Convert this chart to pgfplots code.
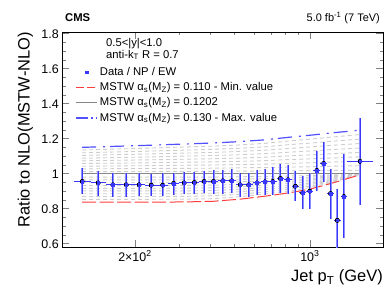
\documentclass[border=0pt]{standalone}
\usepackage{pgfplots}
\usepackage{pgfplotstable}
\pgfplotsset{compat=1.18}
\usepackage{fontspec}
\setmainfont{Liberation Sans}
\definecolor{rootred}{RGB}{255,60,60}
\definecolor{rootblue}{RGB}{80,80,255}
\definecolor{lightgr}{RGB}{205,205,205}
\definecolor{midgr}{RGB}{135,135,135}
\definecolor{bandblue}{RGB}{140,140,255}
\definecolor{datablue}{RGB}{55,55,255}

\pgfplotstableread{
x      r110  r111  r112  r113  r114  r115  r116  r117  r118  r119  r121  r122  r123  r124  r125  r126  r127  r128  r129  r130
123.1  0.838 0.854 0.870 0.886 0.902 0.917 0.933 0.949 0.965 0.981 1.012 1.028 1.043 1.059 1.074 1.089 1.105 1.120 1.136 1.151
207.7  0.838 0.854 0.870 0.886 0.902 0.917 0.933 0.949 0.965 0.981 1.013 1.030 1.046 1.062 1.079 1.095 1.112 1.128 1.145 1.161
314.6  0.839 0.855 0.871 0.886 0.902 0.918 0.934 0.949 0.965 0.981 1.014 1.031 1.049 1.066 1.083 1.101 1.118 1.135 1.153 1.170
412.1  0.843 0.858 0.874 0.889 0.905 0.920 0.935 0.951 0.966 0.981 1.014 1.032 1.050 1.068 1.086 1.104 1.122 1.140 1.158 1.176
527.1  0.855 0.869 0.883 0.898 0.912 0.926 0.940 0.954 0.969 0.983 1.015 1.034 1.053 1.071 1.090 1.109 1.128 1.146 1.165 1.184
661.6  0.872 0.885 0.897 0.910 0.922 0.935 0.947 0.960 0.972 0.985 1.016 1.036 1.055 1.075 1.095 1.115 1.135 1.154 1.174 1.194
817.5  0.890 0.901 0.912 0.922 0.933 0.944 0.955 0.965 0.976 0.987 1.017 1.038 1.059 1.081 1.102 1.123 1.144 1.166 1.187 1.208
999.0  0.912 0.921 0.929 0.938 0.946 0.955 0.964 0.972 0.981 0.990 1.018 1.040 1.063 1.085 1.108 1.130 1.153 1.175 1.198 1.220
1209.4 0.944 0.949 0.955 0.960 0.966 0.971 0.977 0.982 0.988 0.993 1.019 1.043 1.067 1.090 1.114 1.138 1.162 1.185 1.209 1.233
1586.0 0.994 0.995 0.995 0.996 0.996 0.997 0.998 0.998 0.999 0.999 1.020 1.046 1.071 1.097 1.122 1.147 1.173 1.198 1.224 1.249
}\theory

\pgfplotstableread{
x      y     xm    xp    ym    yp
123.1  0.956 9.1   9.9   0.074 0.075
142.6  0.948 9.6   10.4  0.074 0.069
163.2  0.937 10.2  10.8  0.069 0.069
184.7  0.937 10.7  11.3  0.069 0.065
207.7  0.937 11.7  12.3  0.065 0.065
232.2  0.935 12.2  12.8  0.063 0.065
258.1  0.935 13.1  13.9  0.061 0.067
285.7  0.945 13.7  14.3  0.065 0.057
314.6  0.948 14.6  15.4  0.061 0.060
345.6  0.950 15.6  16.4  0.067 0.061
378.1  0.956 16.1  16.9  0.063 0.061
412.1  0.956 17.1  17.9  0.073 0.065
448.6  0.960 18.6  19.4  0.077 0.061
487.1  0.960 19.1  19.9  0.067 0.067
527.1  0.937 20.1  20.9  0.069 0.067
569.6  0.937 21.6  22.4  0.067 0.067
614.6  0.948 22.6  23.4  0.070 0.073
661.6  0.954 23.6  24.4  0.074 0.075
711.0  0.956 25.0  26.0  0.076 0.080
763.0  0.973 26.0  27.0  0.080 0.082
817.5  0.966 27.5  28.5  0.083 0.086
875.0  0.929 29.0  30.0  0.084 0.088
935.5  0.891 30.5  31.5  0.095 0.096
999.0  0.901 32.0  33.0  0.100 0.105
1066.0 1.019 34.0  35.0  0.120 0.111
1135.9 1.059 34.9  36.1  0.107 0.122
1209.4 0.887 37.4  38.6  0.145 0.142
1286.9 0.734 38.9  40.1  0.184 0.180
1367.9 0.870 40.9  42.1  0.235 0.241
1586.0 1.071 176.0 198.0 0.249 0.250
}\data

\begin{document}
\begin{tikzpicture}
\begin{axis}[
  name=a,
  scale only axis, width=320.7bp, height=215.3bp,
  xmode=log, xmin=102.5, xmax=1960, ymin=0.58, ymax=1.81,
  clip mode=individual,
  axis line style={line width=0.8bp},
  xtick={200,1000}, xticklabels={2×10\textsuperscript{2}, 10\textsuperscript{3}},
  minor xtick={300,400,500,600,700,800,900},
  ytick={0.6,0.8,1,1.2,1.4,1.6,1.8},
  yticklabels={0.6,0.8,1,1.2,1.4,1.6,1.8},
  minor y tick num=3,
  tick align=inside, major tick length=7bp, minor tick length=3.5bp,
  tick style={line width=0.7bp},
  /pgf/number format/assume math mode=true,
  tick label style={font=\fontsize{12.5}{14}\selectfont},
  xlabel={Jet p\textsubscript{T} (GeV)},
  ylabel={Ratio to NLO(MSTW-NLO)},
  every axis x label/.style={at={([yshift=-34.4bp]rel axis cs:1,0)}, anchor=base east, inner sep=0pt, font=\fontsize{16.5}{18}\selectfont},
  every axis y label/.style={at={([xshift=-37bp]rel axis cs:0,1)}, anchor=east, rotate=90, inner sep=0pt, font=\fontsize{16.5}{18}\selectfont},
  legend style={at={(rel axis cs:0.040,0.846)}, anchor=north west, draw=none, fill=none,
    font=\fontsize{11.3}{13}\selectfont, row sep=1.6bp, inner sep=0pt},
  legend cell align=left,
]
\addlegendimage{legend image code/.code={\fill[datablue] (9.2bp,-1.3bp) rectangle (11.8bp,1.3bp);}}
\addlegendentry{Data / NP / EW}
\addlegendimage{legend image code/.code={\draw[color=rootred, line width=1.6bp, dash pattern=on 8bp off 3bp] (0bp,0bp) -- (21bp,0bp);}}
\addlegendentry{MSTW α\textsubscript{s}(M\textsubscript{Z}) = 0.110 - Min. value}
\addlegendimage{legend image code/.code={\draw[color=midgr, line width=1.4bp] (0bp,0bp) -- (21bp,0bp);}}
\addlegendentry{MSTW α\textsubscript{s}(M\textsubscript{Z}) = 0.1202}
\addlegendimage{legend image code/.code={\draw[color=rootblue, line width=1.4bp, dash pattern=on 12bp off 3bp on 1.5bp off 3bp] (0bp,0bp) -- (21bp,0bp);}}
\addlegendentry{MSTW α\textsubscript{s}(M\textsubscript{Z}) = 0.130 - Max. value}

\pgfplotsinvokeforeach{r111,r112,r113,r114,r115,r116,r117,r118,r119,r121,r122,r123,r124,r125,r126,r127,r128,r129}{
  \addplot[lightgr, line width=0.9bp, dash pattern=on 4bp off 3bp, forget plot] table[x=x,y=#1]{\theory};
}
\addplot[midgr, line width=1.3bp, forget plot] coordinates {(123.1,1) (1586,1)};
\addplot[rootred, line width=1bp, dash pattern=on 14bp off 3.5bp, forget plot] table[x=x,y=r110]{\theory};
\addplot[rootblue, line width=1.2bp, dash pattern=on 14bp off 7bp on 2bp off 5bp, forget plot] table[x=x,y=r130]{\theory};

\addplot[only marks, mark=none, forget plot,
  error bars/.cd, y dir=both, y explicit, error mark=none,
  error bar style={line width=2bp, color=bandblue}]
  table[x=x,y=y,y error plus=yp,y error minus=ym]{\data};
\addplot[only marks, mark=none, forget plot,
  error bars/.cd, y dir=both, y explicit, error mark=none,
  error bar style={line width=0.9bp, color=datablue}]
  table[x=x,y=y,y error plus=yp,y error minus=ym]{\data};
\addplot[only marks, mark=none, forget plot,
  error bars/.cd, x dir=both, x explicit, error mark=none,
  error bar style={line width=1bp, color=datablue}]
  table[x=x,y=y,x error plus=xp,x error minus=xm]{\data};
\addplot[only marks, mark=square*, mark size=1.3bp, color=datablue, forget plot] table[x=x,y=y]{\data};

\node[anchor=base west, inner sep=0pt, font=\fontsize{11.3}{13}\selectfont] at (rel axis cs:0.136,0.932) {0.5<|y|<1.0};
\node[anchor=base west, inner sep=0pt, font=\fontsize{11.3}{13}\selectfont] at (rel axis cs:0.136,0.878) {anti-k\textsubscript{T} R = 0.7};
\end{axis}
\node[anchor=base west, inner sep=0pt, font=\bfseries\fontsize{11.3}{13}\selectfont] at ([shift={(2.7bp,10.3bp)}]a.north west) {CMS};
\node[anchor=base east, inner sep=0pt, font=\fontsize{11}{13}\selectfont] at ([shift={(-3bp,10.3bp)}]a.north east) {5.0 fb\textsuperscript{-1} (7 TeV)};
\pgfresetboundingbox
\path[use as bounding box] ([shift={(-62.3bp,-54.7bp)}]a.south west) rectangle ([shift={(7bp,32bp)}]a.north east);
\end{tikzpicture}
\end{document}
